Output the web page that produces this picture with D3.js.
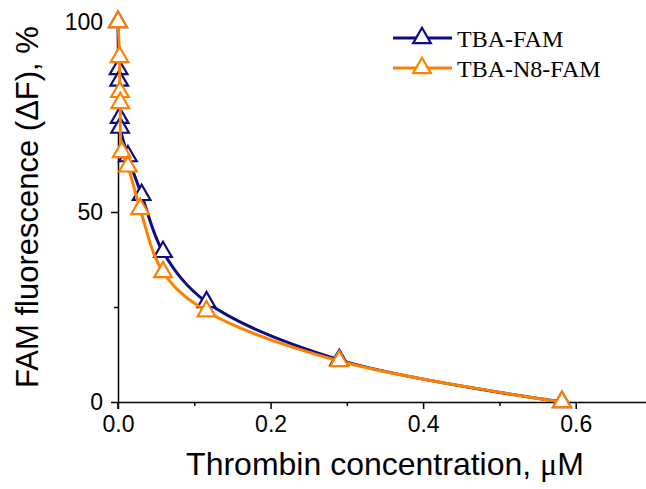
<!DOCTYPE html>
<html>
<head>
<meta charset="utf-8">
<script src="https://cdn.jsdelivr.net/npm/d3@7"></script>
<style>
  body { margin: 0; background: #fff; }
  svg { display: block; }
</style>
</head>
<body>
<div id="chart"></div>
<script>
// data
const seriesNames = ['TBA-FAM', 'TBA-N8-FAM'];
const seriesColors = ['#0d0d82', '#ff8000'];
const famX = [0, 0.0008, 0.0016, 0.0022, 0.0028, 0.013, 0.031, 0.059, 0.116, 0.29, 0.582];
const famY = [100, 87.6, 84.6, 74.8, 72.2, 64.7, 54.5, 39.5, 26.3, 11.1, 0];
const n8X = [0, 0.002, 0.0025, 0.003, 0.005, 0.013, 0.029, 0.059, 0.116, 0.29, 0.582];
const n8Y = [100, 90.8, 81.6, 78.7, 65.8, 62, 50.8, 34.2, 23.9, 10.8, 0];
const xMajor = [0, 0.2, 0.4, 0.6];
const xMinor = [0.1, 0.3, 0.5];
const yMajor = [0, 50, 100];
const yMinor = [25, 75];

const width = 646, height = 489;

const svg = d3.select('#chart')
    .append('svg')
    .attr('width', width)
    .attr('height', height);

const x = d3.scaleLinear().domain([0, 0.7]).range([118, 652]);
const y = d3.scaleLinear().domain([0, 100]).range([402, 22]);

// axes
const xAxis = svg.append('g').attr('transform', `translate(0,${y(0)})`);
xAxis.call(d3.axisBottom(x).tickValues(xMajor).tickFormat(d3.format('.1f'))
    .tickSizeInner(7).tickSizeOuter(0).tickPadding(7));
xAxis.append('g').call(d3.axisBottom(x).tickValues(xMinor).tickFormat('').tickSize(4))
    .select('.domain').remove();

const yAxis = svg.append('g').attr('transform', `translate(${x(0)},0)`);
yAxis.call(d3.axisLeft(y).tickValues(yMajor).tickFormat(d3.format('d'))
    .tickSizeInner(7).tickSizeOuter(0).tickPadding(8));
yAxis.append('g').call(d3.axisLeft(y).tickValues(yMinor).tickFormat('').tickSize(4))
    .select('.domain').remove();

// crossing tick at origin
svg.append('line')
    .attr('x1', x(0)).attr('x2', x(0))
    .attr('y1', y(0)).attr('y2', y(0) + 7)
    .attr('stroke', '#000').attr('stroke-width', 1.5);

svg.selectAll('.domain, .tick line').attr('stroke', '#000').attr('stroke-width', 1.5);
svg.selectAll('.tick text')
    .attr('fill', '#000')
    .style('font-family', 'Liberation Sans, Arial, sans-serif')
    .style('font-size', '23px');

// axis titles
svg.append('text')
    .attr('x', 385).attr('y', 475)
    .attr('text-anchor', 'middle')
    .style('font-family', 'Liberation Sans, Arial, sans-serif')
    .style('font-size', '32px')
    .text('Thrombin concentration, ')
    .append('tspan')
    .style('font-family', 'Liberation Serif, serif')
    .text('μ')
    .append('tspan')
    .style('font-family', 'Liberation Sans, Arial, sans-serif')
    .text('M');

svg.append('text')
    .attr('transform', 'translate(38,207) rotate(-90)')
    .attr('text-anchor', 'middle')
    .style('font-family', 'Liberation Sans, Arial, sans-serif')
    .style('font-size', '31px')
    .text('FAM fluorescence (ΔF), %');

// series
const series = [
    { xs: famX, ys: famY },
    { xs: n8X, ys: n8Y }
];
const line = d3.line()
    .x(d => x(d[0]))
    .y(d => y(d[1]))
    .curve(d3.curveCatmullRom.alpha(0.5));
const tri = d3.symbol().type(d3.symbolTriangle).size(135);

series.forEach((s, i) => {
    const pts = s.xs.map((v, j) => [v, s.ys[j]]);
    const g = svg.append('g');
    g.append('path')
        .datum(pts)
        .attr('d', line)
        .attr('fill', 'none')
        .attr('stroke', seriesColors[i])
        .attr('stroke-width', 3);
    g.selectAll('path.pt')
        .data(pts)
        .join('path')
        .attr('class', 'pt')
        .attr('d', tri)
        .attr('transform', d => `translate(${x(d[0])},${y(d[1])})`)
        .attr('fill', '#fff')
        .attr('stroke', seriesColors[i])
        .attr('stroke-width', 2.2);
});

// legend
const legend = svg.append('g');
seriesNames.forEach((name, i) => {
    const ly = 38 + i * 30;
    legend.append('line')
        .attr('x1', 393).attr('x2', 452)
        .attr('y1', ly).attr('y2', ly)
        .attr('stroke', seriesColors[i]).attr('stroke-width', 3);
    legend.append('path')
        .attr('d', tri)
        .attr('transform', `translate(422,${ly})`)
        .attr('fill', '#fff')
        .attr('stroke', seriesColors[i])
        .attr('stroke-width', 2.2);
    legend.append('text')
        .attr('x', 457).attr('y', ly + 9)
        .style('font-family', 'Liberation Serif, Times New Roman, serif')
        .style('font-size', '24px')
        .text(name);
});
</script>
</body>
</html>
